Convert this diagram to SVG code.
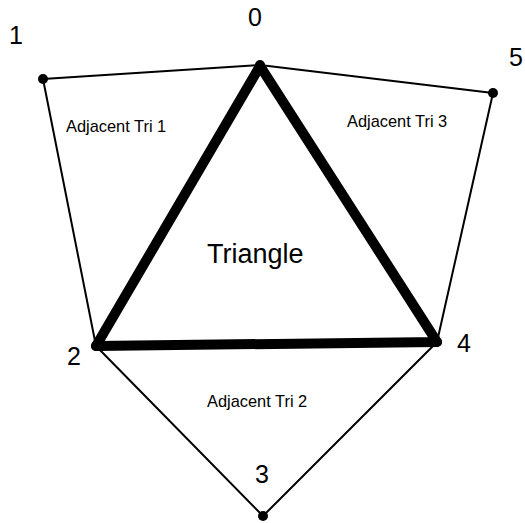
<svg xmlns="http://www.w3.org/2000/svg" width="525" height="523" viewBox="0 0 525 523">
<style>
.thin{fill:none;stroke:#000;stroke-width:2;stroke-linejoin:round}
.thick{fill:none;stroke:#000;stroke-width:10;stroke-linejoin:round;stroke-linecap:round}
.dot{fill:#000}
.num{font-family:"Liberation Sans",Arial,sans-serif;font-size:25px;fill:#000}
.lab{font-family:"Liberation Sans",Arial,sans-serif;font-size:16.4px;fill:#000}
.big{font-family:"Liberation Sans",Arial,sans-serif;font-size:27px;fill:#000}
</style>
<rect width="525" height="523" fill="#fff"/>
<g id="connectors">
<polyline class="thin" points="96,346 43,79 260,65 493,93 437,342 263,516 96,346"/>
<polygon class="thick" points="260,66 96,346 437,342"/>
</g>
<g id="node0"><circle class="dot" cx="260" cy="65" r="5"/><text class="num" x="248" y="26">0</text></g>
<g id="node1"><circle class="dot" cx="43" cy="79" r="5"/><text class="num" x="9" y="44">1</text></g>
<g id="node2"><circle class="dot" cx="96" cy="346" r="5"/><text class="num" x="67" y="365">2</text></g>
<g id="node3"><circle class="dot" cx="263" cy="516" r="5"/><text class="num" x="255" y="483">3</text></g>
<g id="node4"><circle class="dot" cx="437" cy="342" r="5"/><text class="num" x="457" y="352">4</text></g>
<g id="node5"><circle class="dot" cx="493" cy="93" r="5"/><text class="num" x="509" y="66">5</text></g>
<g id="adj1"><text class="lab" x="66" y="132">Adjacent Tri 1</text></g>
<g id="adj3"><text class="lab" x="347" y="127">Adjacent Tri 3</text></g>
<g id="adj2"><text class="lab" x="207" y="407">Adjacent Tri 2</text></g>
<g id="tri"><text class="big" x="207" y="263">Triangle</text></g>
</svg>
